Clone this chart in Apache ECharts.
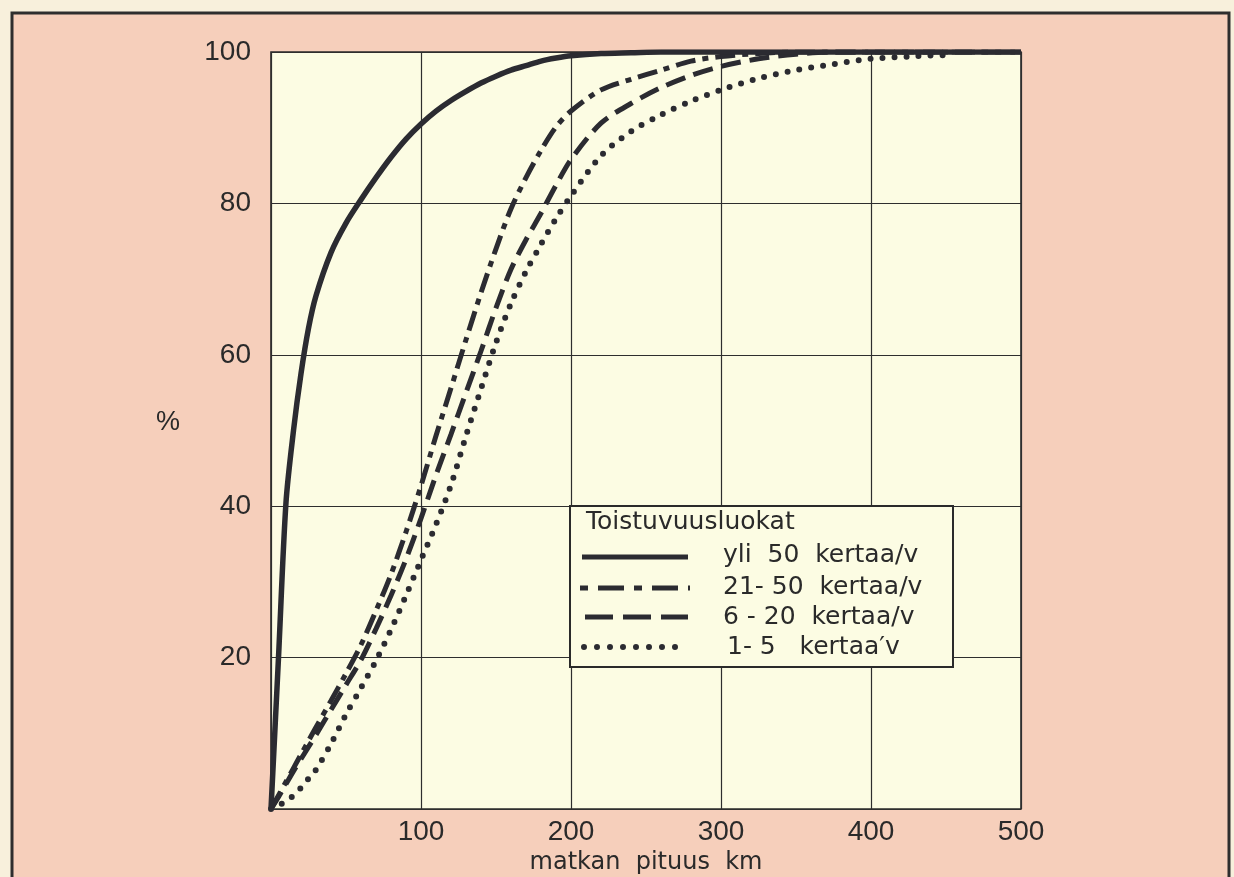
<!DOCTYPE html>
<html>
<head>
<meta charset="utf-8">
<script src="https://cdn.jsdelivr.net/npm/echarts@6/dist/echarts.min.js"></script>
<style>
html,body{margin:0;padding:0;background:#f8f0dc;}
#c{width:1234px;height:877px;}
</style>
</head>
<body>
<div id="c"></div>
<script>
// distance (km) sample points
const distances = [0,5,10,15,20,25,30,40,50,60,70,80,90,100,110,120,130,140,150,160,170,180,190,200,220,240,260,280,300,325,350,375,400,425,450,500];
// cumulative share (%) per frequency class
const yli50 = [0,20,40.5,50,57.5,63.5,67.8,73.5,77.4,80.5,83.4,86.1,88.5,90.5,92.2,93.6,94.8,95.9,96.8,97.6,98.2,98.8,99.2,99.5,99.8,99.9,100,100,100,100,100,100,100,100,100,100];
const k21_50 = [0,1.8,3.6,5.4,7.2,9,10.8,14.3,17.9,21.7,26.2,31,36.6,42.7,49.3,55.6,62,68.2,74,79.3,83.4,87,90.1,92.2,95,96.4,97.6,98.8,99.4,99.8,100,100,100,100,100,100];
const k6_20 = [0,1.6,3.3,5,6.6,8.2,9.8,13.1,16.4,19.7,23.8,28.2,33,38.4,44.1,49.5,55,60.5,66.2,71.3,75.2,78.7,82.4,85.8,90.6,93.2,95.3,96.9,98.1,99.1,99.7,100,100,100,100,100];
const k1_5 = [0,0.5,1,1.8,2.8,4,5.2,8.6,12.5,16,19.6,23.7,28.2,32.9,37.6,42.8,49.3,55.5,61.6,66.8,71,74.6,78,81,86.3,89.5,91.7,93.5,95,96.5,97.6,98.4,99.1,99.4,99.6,null];
const xTicks = [0,100,200,300,400,500];
const yTicks = [0,20,40,60,80,100];
const seriesNames = ['yli  50  kertaa/v','21- 50  kertaa/v','6 - 20  kertaa/v','1- 5   kertaa\u2032v'];
const legendTitle = 'Toistuvuusluokat';

const pairs = arr => distances.map((d,i)=>[d, arr[i]]);
const INK = '#2b2b31';
const FONT = 'Liberation Sans';
const WFONT = 'DejaVu Sans';

const chart = echarts.init(document.getElementById('c'), null, {renderer:'canvas'});

const gl = {left:271, top:52, width:750, height:757};
const lgX = 570, lgY = 506;

function legendLine(y, x1, x2, lineDash, cap){
  return {type:'line', shape:{x1:x1,y1:y,x2:x2,y2:y}, z:100,
    style:{stroke:INK, lineWidth: cap==='round'?6:5, lineDash:lineDash, lineCap:cap||'butt'}};
}
function legendText(x, y, t){
  return {type:'text', x:x, y:y, z:100, style:{text:t, fontSize:25, fill:'#2a2a2a', fontFamily:WFONT, verticalAlign:'middle'}};
}

chart.setOption({
  backgroundColor:'#f8f0dc',
  animation:false,
  textStyle:{fontFamily:FONT},
  grid:{left:gl.left, top:gl.top, width:gl.width, height:gl.height, show:true, containLabel:false,
        outerBoundsMode:'none',
        backgroundColor:'#fcfce3', borderColor:'#2a2a2a', borderWidth:1.6},
  xAxis:{type:'value', min:xTicks[0], max:xTicks[xTicks.length-1], interval:100,
    name:'matkan  pituus  km', nameLocation:'middle', nameGap:41,
    nameTextStyle:{fontSize:24, color:'#2a2a2a', fontFamily:WFONT},
    axisLine:{show:false}, axisTick:{show:false},
    axisLabel:{fontSize:28, color:'#2a2a2a', margin:9, formatter:v=>v===0?'':String(v)},
    splitLine:{show:true, lineStyle:{color:'#2e2e2e', width:1.2}}},
  yAxis:{type:'value', min:yTicks[0], max:yTicks[yTicks.length-1], interval:20,
    axisLine:{show:false}, axisTick:{show:false},
    axisLabel:{fontSize:28, color:'#2a2a2a', margin:20, formatter:v=>v===0?'':String(v)},
    splitLine:{show:true, lineStyle:{color:'#2e2e2e', width:1.2}}},
  graphic:[
    {type:'rect', shape:{x:12,y:13,width:1217,height:900}, z:-10, silent:true,
     style:{fill:'#f6cfbb', stroke:'#2e2e2e', lineWidth:3}},
    {type:'text', x:168, y:423, z:5, style:{text:'%', fontSize:27, fill:'#2a2a2a', fontFamily:FONT, align:'center', verticalAlign:'middle'}},
    {type:'rect', shape:{x:lgX, y:lgY, width:383, height:161}, z:90,
     style:{fill:'#fcfce3', stroke:'#2a2a2a', lineWidth:2}},
    {type:'text', x:586, y:522, z:100, style:{text:legendTitle, fontSize:25, fill:'#2a2a2a', fontFamily:WFONT, verticalAlign:'middle'}},
    legendLine(557, 582, 688, null, 'butt'),
    legendLine(588, 580, 690, [8,10,26,10], 'butt'),
    legendLine(617, 585, 688, [28,10], 'butt'),
    legendLine(647, 584, 680, [0,13], 'round'),
    legendText(723, 555, seriesNames[0]),
    legendText(723, 587, seriesNames[1]),
    legendText(723, 617, seriesNames[2]),
    legendText(727, 647, seriesNames[3])
  ],
  series:[
    {name:seriesNames[3], type:'line', data:pairs(k1_5), showSymbol:false, smooth:0.3, z:3,
     lineStyle:{color:INK, width:6, type:[0,12], cap:'round'}},
    {name:seriesNames[2], type:'line', data:pairs(k6_20), showSymbol:false, smooth:0.3, z:3,
     lineStyle:{color:INK, width:5, type:[20,9], cap:'butt'}},
    {name:seriesNames[1], type:'line', data:pairs(k21_50), showSymbol:false, smooth:0.3, z:3,
     lineStyle:{color:INK, width:5, type:[20,7,6,7], cap:'butt'}},
    {name:seriesNames[0], type:'line', data:pairs(yli50), showSymbol:false, smooth:0.3, z:4,
     lineStyle:{color:INK, width:5.5, type:'solid'}}
  ]
});
</script>
</body>
</html>
